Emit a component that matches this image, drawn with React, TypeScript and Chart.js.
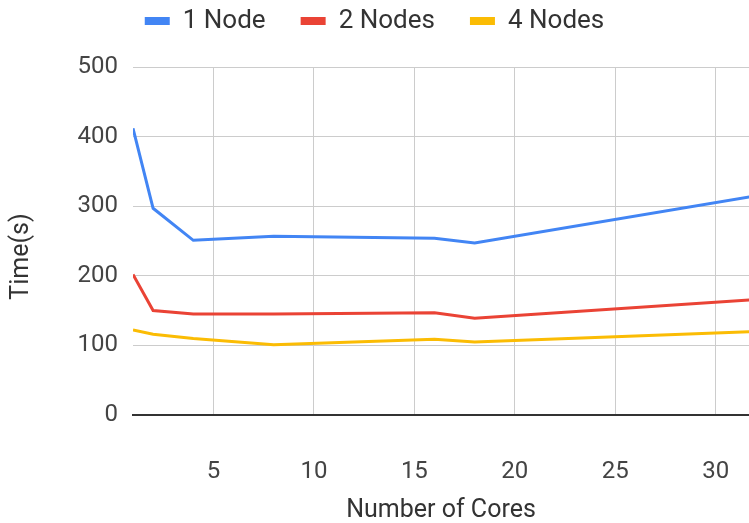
import React, { useEffect, useRef } from 'react';
import { Chart, registerables } from 'chart.js';

Chart.register(...registerables);

const cores = [1, 2, 4, 8, 16, 18, 32];
const node1 = [412, 297, 251, 257, 254, 247, 315];
const node2 = [202, 150, 145, 145, 147, 139, 166];
const node4 = [122, 116, 110, 101, 109, 105, 120];
const seriesNames = ['1 Node', '2 Nodes', '4 Nodes'];
const seriesColors = ['#4285F4', '#EA4335', '#FBBC04'];
const xTickValues = [5, 10, 15, 20, 25, 30];
const xMin = 1;
const xMax = 31.65;
const yMin = 0;
const yMax = 500;
const yStep = 100;
const xTitle = 'Number of Cores';
const yTitle = 'Time(s)';

const LEGEND_EXTRA = 23;

const legendSpacer = {
  id: 'legendSpacer',
  beforeInit(chart: any) {
    const lg = chart.legend;
    if (!lg || lg.__patched) return;
    const origFit = lg.fit;
    lg.fit = function () {
      origFit.call(this);
      this.height += LEGEND_EXTRA;
    };
    lg.__patched = true;
  },
};

export default function App() {
  const ref = useRef<HTMLCanvasElement | null>(null);

  useEffect(() => {
    if (!ref.current) return;
    const seriesValues = [node1, node2, node4];
    const chart = new Chart(ref.current, {
      type: 'line',
      data: {
        datasets: seriesValues.map((vals, i) => ({
          label: seriesNames[i],
          data: cores.map((c, j) => ({ x: c, y: vals[j] })),
          borderColor: seriesColors[i],
          backgroundColor: seriesColors[i],
          borderWidth: 3,
          pointRadius: 0,
          pointHoverRadius: 0,
          tension: 0,
          fill: false,
        })),
      },
      options: {
        responsive: false,
        animation: false,
        devicePixelRatio: 1,
        layout: { padding: { top: -27, left: 0, right: 0, bottom: 0 } },
        font: { family: 'Roboto' },
        plugins: {
          tooltip: { enabled: false },
          legend: {
            display: true,
            position: 'top',
            labels: {
              font: { family: 'Roboto', size: 26 },
              color: '#333',
              boxWidth: 25,
              boxHeight: 8,
              padding: 35,
              generateLabels: (c: any) =>
                Chart.defaults.plugins.legend.labels
                  .generateLabels(c)
                  .map((l: any) => ({ ...l, lineWidth: 0 })),
            },
          },
        },
        scales: {
          x: {
            type: 'linear',
            min: xMin,
            max: xMax,
            afterBuildTicks: (scale: any) => {
              scale.ticks = xTickValues.map((v) => ({ value: v }));
            },
            afterFit: (scale: any) => {
              scale.height = 108;
              scale.paddingRight = 0;
              scale.paddingLeft = 0;
            },
            grid: { color: '#cccccc', lineWidth: 1, drawTicks: false },
            border: { display: true, color: '#333333', width: 2 },
            ticks: {
              font: { family: 'Roboto', size: 24 },
              color: '#444',
              padding: 43,
              maxRotation: 0,
              autoSkip: false,
            },
            title: {
              display: true,
              text: xTitle,
              font: { family: 'Roboto', size: 25 },
              color: '#333',
              padding: { top: 0, bottom: -3 },
            },
          },
          y: {
            type: 'linear',
            min: yMin,
            max: yMax,
            afterFit: (scale: any) => {
              scale.width = 133;
            },
            grid: { color: '#cccccc', lineWidth: 1, drawTicks: false },
            border: { display: false },
            ticks: {
              stepSize: yStep,
              font: { family: 'Roboto', size: 24 },
              color: '#444',
              padding: 15,
            },
            title: {
              display: true,
              text: yTitle + '     ',
              font: { family: 'Roboto', size: 25 },
              color: '#333',
              padding: { top: 7, bottom: 0 },
            },
          },
        },
      },
      plugins: [legendSpacer],
    });
    return () => chart.destroy();
  }, []);

  return (
    <div style={{ position: 'fixed', left: 0, top: 0, width: 749, height: 523 }}>
      <canvas ref={ref} width={749} height={523} />
    </div>
  );
}
